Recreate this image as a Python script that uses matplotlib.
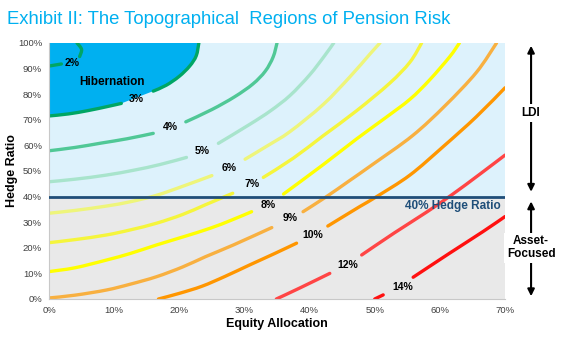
import matplotlib.pyplot as plt
from matplotlib.path import Path
from matplotlib.patches import PathPatch
import numpy as np

### Datos: curvas de nivel del riesgo (x = Equity %, y = Hedge Ratio %)
## cada curva va en tramos, cortada donde va la etiqueta
riesgo_2 = [[(0, 91.0), (1.9, 91.8)],
            [(4.7, 94.7), (5.0, 97.5), (4.3, 100)]]
riesgo_3 = [[(0, 71.5), (3, 72.3), (6, 73.6), (9, 75.2), (11.1, 76.4)],
            [(16, 81.2), (18, 83.5), (20, 87), (21.6, 91), (22.6, 95), (23, 100)]]
riesgo_4 = [[(0, 57.9), (4, 59.2), (8, 60.9), (12, 62.6), (16, 64.7)],
            [(21, 69.2), (25, 74), (28.5, 79), (31.3, 84), (33.2, 89), (34.4, 94.5), (35, 100)]]
riesgo_5 = [[(0, 45.8), (4, 46.8), (8.8, 48.4), (13, 50.3), (17, 52.5), (21.1, 55.3)],
            [(26, 60.8), (30.8, 68.2), (34, 73.5), (37, 79.5), (40, 87.5), (42.3, 95), (43.7, 100)]]
riesgo_6 = [[(0, 33.5), (4, 34.6), (8.8, 36.3), (12.5, 38), (16.5, 40.5), (20.5, 44), (25, 48.2)],
            [(30.1, 54.6), (33.5, 59.8), (37, 65.4), (42.1, 76), (46.2, 86.8), (49.2, 95.5), (50.8, 100)]]
riesgo_7 = [[(0, 22), (4, 23.2), (8.8, 25), (12.5, 27), (16.5, 29.6), (20.5, 33), (24, 36.8), (28.2, 41.3)],
            [(32.9, 47.5), (37.5, 55), (42.1, 63.8), (47.2, 73.5), (52.3, 84.3), (55.4, 92.5), (57.2, 100)]]
riesgo_8 = [[(0, 10.7), (4, 12.2), (8.8, 15.2), (12.5, 17.8), (16.5, 21.1), (20.5, 24.2), (24.7, 27.6), (28, 30.8), (31.1, 34.1)],
            [(36, 41), (42.1, 52.5), (47.2, 62.5), (51.5, 70.5), (55.4, 78), (58.4, 85.5), (61.5, 94.6), (63, 100)]]
riesgo_9 = [[(0, 0.4), (4, 1.5), (8.8, 3.5), (12.5, 5.8), (16.5, 8.7), (20.5, 12.5), (24, 16.5), (28.3, 21.1), (34.2, 27.9)],
            [(39, 34.1), (42.6, 40), (46, 46), (49.7, 52.6), (55.8, 63.8), (60.8, 75.5), (65.6, 88.5), (68.7, 100)]]
riesgo_10 = [[(16.8, 0), (20, 2.2), (23.5, 5), (27, 8.8), (30.8, 13.3), (34.5, 17.6), (38, 21.8)],
             [(42.8, 28.5), (47.7, 36.1), (50.3, 40), (55.4, 48.4), (60.5, 59.5), (65.6, 71.2), (70, 82.5)]]
riesgo_12 = [[(34.9, 0), (38.5, 4.3), (43.1, 10)],
             [(48, 17.2), (53, 25.8), (58, 34), (62, 41), (66, 48.5), (70, 56.2)]]
riesgo_14 = [[(50, 0), (51.3, 1.6)],
             [(55.9, 8.5), (61.5, 17.9), (66.6, 26.3), (70, 32.2)]]

curvas = [riesgo_2, riesgo_3, riesgo_4, riesgo_5, riesgo_6, riesgo_7,
          riesgo_8, riesgo_9, riesgo_10, riesgo_12, riesgo_14]
etiquetas = ['2%', '3%', '4%', '5%', '6%', '7%', '8%', '9%', '10%', '12%', '14%']
pos_etiquetas = [(3.6, 92.1), (13.4, 78.1), (18.7, 67.1), (23.5, 57.9), (27.7, 51.3),
                 (31.1, 44.9), (33.6, 36.7), (37, 31.8), (40.5, 25), (45.9, 13.3), (54.3, 4.8)]
colores = ['#00A664', '#00A664', '#50C896', '#A8E4CC', '#EEF57A', '#F5F53C',
           '#FFFF00', '#F8B040', '#FF9600', '#FF4545', '#FF1010']

hedge_limite = 40
xticks = [0, 10, 20, 30, 40, 50, 60, 70]
yticks = [0, 10, 20, 30, 40, 50, 60, 70, 80, 90, 100]


## curva suave que pasa por los puntos (catmull-rom -> bezier)
def tramo_suave(pts):
    p = np.array(pts, dtype=float)
    verts = [p[0]]
    codes = [Path.MOVETO]
    for i in range(len(p) - 1):
        p0 = p[i - 1] if i > 0 else p[i]
        p3 = p[i + 2] if i + 2 < len(p) else p[i + 1]
        verts += [p[i] + (p[i + 1] - p0) / 6, p[i + 1] - (p3 - p[i]) / 6, p[i + 1]]
        codes += [Path.CURVE4] * 3
    return verts, codes


plt.rcParams['font.family'] = ['Liberation Sans', 'DejaVu Sans']

fig = plt.figure(figsize=(5.62, 3.38), dpi=100)
ax = fig.add_axes([0.0872, 0.1154, 0.8114, 0.7574])

## fondos: LDI (azul claro) y asset-focused (gris)
ax.axhspan(hedge_limite, 100, color='#DDF2FC', zorder=0)
ax.axhspan(0, hedge_limite, color='#E9E9E9', zorder=0)

## zona de hibernacion (por encima de la curva del 3%)
va, ca = tramo_suave(riesgo_3[0])
vb, cb = tramo_suave(riesgo_3[1])
cb[0] = Path.LINETO
verts = va + vb + [(0, 100), (0, 100)]
codes = ca + cb + [Path.LINETO, Path.CLOSEPOLY]
ax.add_patch(PathPatch(Path(verts, codes), facecolor='#00B0F0', edgecolor='none', zorder=1))

## curvas
for curva, color in zip(curvas, colores):
    for seg in curva:
        v, c = tramo_suave(seg)
        ax.add_patch(PathPatch(Path(v, c), facecolor='none', edgecolor=color, lw=2.4,
                               capstyle='round', joinstyle='round', zorder=2))

for txt, (x, y) in zip(etiquetas, pos_etiquetas):
    ax.text(x, y, txt, fontsize=7.5, fontweight='bold', ha='center', va='center', zorder=4)

## linea del 40%
ax.axhline(hedge_limite, color='#1F4E79', lw=2, zorder=3)
ax.text(69.3, 36.4, '40% Hedge Ratio', color='#1F4E79', fontsize=8.5, fontweight='bold',
        ha='right', va='center', zorder=4)
ax.text(9.7, 84.9, 'Hibernation', fontsize=8.5, fontweight='bold', ha='center', va='center', zorder=4)

## flechas a la derecha
ax.annotate('', xy=(74, 100), xytext=(74, 40.8), annotation_clip=False,
            arrowprops=dict(arrowstyle='<|-|>', color='black', lw=1.5, mutation_scale=10))
ax.annotate('', xy=(74, 39.2), xytext=(74, 0), annotation_clip=False,
            arrowprops=dict(arrowstyle='<|-|>', color='black', lw=1.5, mutation_scale=10))
ax.text(74, 72.6, 'LDI', fontsize=8.5, fontweight='bold', ha='center', va='center', clip_on=False,
        bbox=dict(facecolor='white', edgecolor='none', pad=2))
ax.text(74, 20.0, 'Asset-\nFocused', fontsize=8.5, fontweight='bold', ha='center', va='center',
        clip_on=False, linespacing=1.1, bbox=dict(facecolor='white', edgecolor='none', pad=2))

ax.set_xlim(0, 70)
ax.set_ylim(0, 100)
ax.set_xticks(xticks)
ax.set_xticklabels([f'{v}%' for v in xticks])
ax.set_yticks(yticks)
ax.set_yticklabels([f'{v}%' for v in yticks])
ax.tick_params(length=0, labelsize=6.8, labelcolor='#404040', pad=5)
for s in ['top', 'right']:
    ax.spines[s].set_visible(False)
for s in ['left', 'bottom']:
    ax.spines[s].set_color('#C8C8C8')

ax.set_xlabel('Equity Allocation', fontsize=9, fontweight='bold', labelpad=2)
ax.set_ylabel('Hedge Ratio', fontsize=9, fontweight='bold', labelpad=0)

fig.text(0.013, 0.943, 'Exhibit II: The Topographical  Regions of Pension Risk',
         color='#00B0F0', fontsize=13.3, va='center', ha='left')

fig.savefig('out.png', dpi=100)
